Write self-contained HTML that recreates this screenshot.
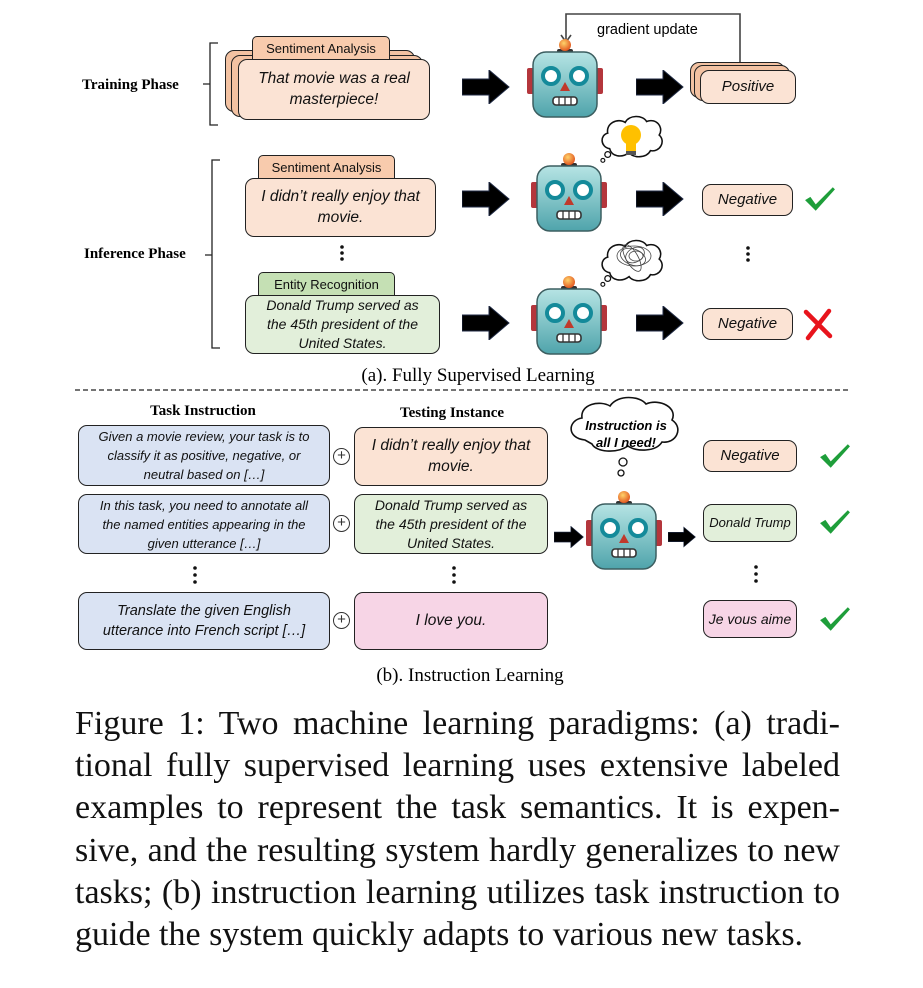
<!DOCTYPE html>
<html><head><meta charset="utf-8"><style>
body{margin:0;width:923px;height:988px;background:#fff;position:relative;overflow:hidden;font-family:"Liberation Sans",sans-serif;}
.a{position:absolute;}
.box{position:absolute;border:1.6px solid #222;border-radius:9px;display:flex;align-items:center;justify-content:center;text-align:center;font-style:italic;color:#111;box-sizing:border-box;line-height:1.35;}
.pe{background:#fbe3d4}.gr{background:#e2efda}.bl{background:#dae3f3}.pk{background:#f7d5e6}
.tab{position:absolute;border:1.5px solid #222;border-radius:5px 5px 0 0;background:#f8cbad;font-size:13px;display:flex;align-items:center;justify-content:center;box-sizing:border-box;color:#111}
.serif{font-family:"Liberation Serif",serif;}
.cap{position:absolute;left:75px;width:765px;font-family:"Liberation Serif",serif;font-size:34px;line-height:36px;text-align:justify;text-align-last:justify;white-space:nowrap;color:#111}
.plus{position:absolute;width:17px;height:17px;border:1.3px solid #333;border-radius:50%;box-sizing:border-box;font-size:15px;line-height:14px;text-align:center;color:#333}
</style></head><body>
<svg class="a" style="left:0;top:0" width="923" height="700">
<defs>
<linearGradient id="hg" x1="0" y1="0" x2="0" y2="1"><stop offset="0" stop-color="#b6e4e4"/><stop offset="1" stop-color="#4fa4ab"/></linearGradient>
<radialGradient id="bg" cx="0.4" cy="0.35" r="0.7"><stop offset="0" stop-color="#ffd36a"/><stop offset="1" stop-color="#e0501c"/></radialGradient>
<symbol id="rb" viewBox="0 0 76 80">
<rect x="0" y="30" width="9" height="26" rx="2" fill="#b4363c"/>
<rect x="67" y="30" width="9" height="26" rx="2" fill="#b4363c"/>
<rect x="30" y="11" width="16" height="4" rx="2" fill="#333"/>
<circle cx="38" cy="7" r="6" fill="url(#bg)"/>
<rect x="6" y="14" width="64" height="65" rx="13" fill="url(#hg)" stroke="#3c5e60" stroke-width="1.5"/>
<circle cx="24" cy="38" r="8" fill="#fff" stroke="#148a9a" stroke-width="4"/>
<circle cx="52" cy="38" r="8" fill="#fff" stroke="#148a9a" stroke-width="4"/>
<polygon points="38,44 33,53 43,53" fill="#c0392b"/>
<rect x="26" y="59" width="24" height="8" rx="3" fill="#fff" stroke="#333" stroke-width="1.6"/>
<path d="M32 59v8M38 59v8M44 59v8" stroke="#333" stroke-width="1.3"/>
</symbol>
<symbol id="ar" viewBox="0 0 48 34"><polygon points="0,9 27,9 27,0 47,17 27,34 27,25 0,25" fill="#000" stroke="#1f2a44" stroke-width="1"/></symbol>
<symbol id="ck" viewBox="0 0 30 24"><path d="M1 13 L6 10 L11 17 L27 1 L29 3 L11 23 Z" fill="#1e9e3a"/></symbol>
<symbol id="cl" viewBox="0 0 70 50"><path d="M12 36 C2 34 2 22 10 20 C8 10 20 4 28 9 C32 1 46 1 50 8 C60 4 68 14 63 22 C70 28 64 40 54 38 C50 46 36 46 32 40 C24 46 14 44 12 36Z" fill="#fff" stroke="#111" stroke-width="1.6"/><circle cx="10" cy="42" r="3" fill="#fff" stroke="#111" stroke-width="1.3"/><circle cx="5" cy="48" r="2" fill="#fff" stroke="#111" stroke-width="1.2"/></symbol>
</defs>
<path d="M218 43 H210 V125 H218 M210 84 H203" fill="none" stroke="#222" stroke-width="1.3"/>
<path d="M220 160 H212 V348 H220 M212 255 H205" fill="none" stroke="#222" stroke-width="1.3"/>
<path d="M740 96 V14 H566 V40" fill="none" stroke="#444" stroke-width="1.6"/>
<path d="M561 35 L566 42 L571 35" fill="none" stroke="#444" stroke-width="1.6"/>
<use href="#rb" x="527" y="38" width="76" height="80"/>
<use href="#rb" x="531" y="152" width="76" height="80"/>
<use href="#rb" x="531" y="275" width="76" height="80"/>
<use href="#rb" x="586" y="490" width="76" height="80"/>
<use href="#ar" x="462" y="70" width="48" height="34"/>
<use href="#ar" x="636" y="70" width="48" height="34"/>
<use href="#ar" x="462" y="182" width="48" height="34"/>
<use href="#ar" x="636" y="182" width="48" height="34"/>
<use href="#ar" x="462" y="306" width="48" height="34"/>
<use href="#ar" x="636" y="306" width="48" height="34"/>
<use href="#ar" x="554" y="526" width="30" height="22"/>
<use href="#ar" x="668" y="526" width="28" height="22"/>
<use href="#cl" x="598" y="112" width="68" height="52"/>
<g transform="translate(631,135)"><circle r="10" fill="#ffc000"/><rect x="-5" y="8" width="10" height="9" fill="#ffc000"/><rect x="-5" y="16" width="10" height="4" fill="#555"/></g>
<use href="#cl" x="598" y="236" width="68" height="52"/>
<g fill="none" stroke="#444" stroke-width="0.8"><ellipse cx="634" cy="256" rx="17" ry="10"/><ellipse cx="633" cy="257" rx="13" ry="8" transform="rotate(20 633 257)"/><ellipse cx="635" cy="255" rx="10" ry="7" transform="rotate(-30 635 255)"/><ellipse cx="632" cy="258" rx="15" ry="6" transform="rotate(60 632 258)"/><ellipse cx="636" cy="256" rx="7" ry="5"/></g>
<path d="M585 440 C566 438 568 420 582 418 C580 404 600 400 610 406 C618 394 640 396 646 404 C660 398 678 408 672 420 C684 428 676 444 662 442 C656 452 636 452 628 446 C616 454 596 452 592 444Z" fill="#fff" stroke="#111" stroke-width="1.6"/>
<circle cx="623" cy="462" r="4" fill="#fff" stroke="#111" stroke-width="1.3"/>
<circle cx="621" cy="473" r="3" fill="#fff" stroke="#111" stroke-width="1.3"/>
<use href="#ck" x="804" y="186" width="32" height="26"/>
<path d="M806 312 L830 336 M829 311 L808 338" stroke="#e8141c" stroke-width="4.5" stroke-linecap="round"/>
<use href="#ck" x="819" y="443" width="32" height="26"/>
<use href="#ck" x="819" y="509" width="32" height="26"/>
<use href="#ck" x="819" y="606" width="32" height="26"/>
<g fill="#111"><circle cx="342" cy="247" r="1.8"/><circle cx="342" cy="253" r="1.8"/><circle cx="342" cy="259" r="1.8"/>
<circle cx="748" cy="248" r="1.8"/><circle cx="748" cy="254" r="1.8"/><circle cx="748" cy="260" r="1.8"/>
<circle cx="195" cy="568" r="1.8"/><circle cx="195" cy="575" r="1.8"/><circle cx="195" cy="582" r="1.8"/>
<circle cx="454" cy="568" r="1.8"/><circle cx="454" cy="575" r="1.8"/><circle cx="454" cy="582" r="1.8"/>
<circle cx="756" cy="567" r="1.8"/><circle cx="756" cy="574" r="1.8"/><circle cx="756" cy="581" r="1.8"/></g>
<line x1="75" y1="390" x2="851" y2="390" stroke="#222" stroke-width="1.3" stroke-dasharray="5,3"/>
</svg>
<div class="a" style="left:597px;top:22px;font-size:14.5px">gradient update</div>
<div class="a" style="left:583px;top:417px;width:86px;text-align:center;font-size:13px;font-weight:bold;font-style:italic;line-height:17px">Instruction is all I need!</div>

<div class="a serif" style="left:82px;top:77px;font-size:15px;font-weight:bold">Training Phase</div>
<div class="a serif" style="left:84px;top:246px;font-size:15px;font-weight:bold">Inference Phase</div>

<div class="box pe" style="left:225px;top:50px;width:190px;height:62px;background:#f3c2a2"></div>
<div class="box pe" style="left:231px;top:55px;width:192px;height:62px;background:#f3c2a2"></div>
<div class="tab" style="left:252px;top:36px;width:138px;height:24px">Sentiment Analysis</div>
<div class="box pe" style="left:238px;top:59px;width:192px;height:61px;font-size:15.5px">That movie was a real<br>masterpiece!</div>

<div class="box pe" style="left:690px;top:62px;width:95px;height:36px;background:#f3c2a2"></div>
<div class="box pe" style="left:694px;top:65px;width:96px;height:36px;background:#f3c2a2"></div>
<div class="box pe" style="left:700px;top:70px;width:96px;height:34px;font-size:15px">Positive</div>

<div class="tab" style="left:258px;top:155px;width:137px;height:24px">Sentiment Analysis</div>
<div class="box pe" style="left:245px;top:178px;width:191px;height:59px;font-size:15.5px">I didn’t really enjoy that<br>movie.</div>
<div class="tab" style="left:258px;top:272px;width:137px;height:24px;background:#c5e0b4">Entity Recognition</div>
<div class="box gr" style="left:245px;top:295px;width:195px;height:59px;font-size:14px;line-height:19px">Donald Trump served as<br>the 45th president of the<br>United States.</div>

<div class="box pe" style="left:702px;top:184px;width:91px;height:32px;font-size:15px">Negative</div>
<div class="box pe" style="left:702px;top:308px;width:91px;height:32px;font-size:15px">Negative</div>

<div class="a serif" style="left:0;width:956px;text-align:center;top:365px;font-size:19px">(a). Fully Supervised Learning</div>

<div class="a serif" style="left:103px;width:200px;text-align:center;top:403px;font-size:15px;font-weight:bold">Task Instruction</div>
<div class="a serif" style="left:352px;width:200px;text-align:center;top:405px;font-size:15px;font-weight:bold">Testing Instance</div>

<div class="box bl" style="left:78px;top:425px;width:252px;height:61px;font-size:13px;line-height:19px">Given a movie review, your task is to<br>classify it as positive, negative, or<br>neutral based on […]</div>
<div class="box bl" style="left:78px;top:494px;width:252px;height:60px;font-size:13px;line-height:19px">In this task, you need to annotate all<br>the named entities appearing in the<br>given utterance […]</div>
<div class="box bl" style="left:78px;top:592px;width:252px;height:58px;font-size:14.5px;line-height:20px">Translate the given English<br>utterance into French script […]</div>

<div class="plus" style="left:333px;top:448px">+</div>
<div class="plus" style="left:333px;top:515px">+</div>
<div class="plus" style="left:333px;top:612px">+</div>

<div class="box pe" style="left:354px;top:427px;width:194px;height:59px;font-size:15.5px">I didn’t really enjoy that<br>movie.</div>
<div class="box gr" style="left:354px;top:494px;width:194px;height:60px;font-size:14px;line-height:19px">Donald Trump served as<br>the 45th president of the<br>United States.</div>
<div class="box pk" style="left:354px;top:592px;width:194px;height:58px;font-size:15.5px">I love you.</div>

<div class="box pe" style="left:703px;top:440px;width:94px;height:32px;font-size:15px">Negative</div>
<div class="box gr" style="left:703px;top:504px;width:94px;height:38px;font-size:13px">Donald Trump</div>
<div class="box pk" style="left:703px;top:600px;width:94px;height:38px;font-size:14px">Je vous aime</div>

<div class="a serif" style="left:0;width:940px;text-align:center;top:665px;font-size:19px">(b). Instruction Learning</div>

<div class="cap" style="top:706px">Figure 1: Two machine learning paradigms: (a) tradi-</div>
<div class="cap" style="top:748px">tional fully supervised learning uses extensive labeled</div>
<div class="cap" style="top:790px">examples to represent the task semantics. It is expen-</div>
<div class="cap" style="top:833px">sive, and the resulting system hardly generalizes to new</div>
<div class="cap" style="top:875px">tasks; (b) instruction learning utilizes task instruction to</div>
<div class="cap" style="top:917px;text-align-last:left;width:auto">guide the system quickly adapts to various new tasks.</div>
</body></html>
